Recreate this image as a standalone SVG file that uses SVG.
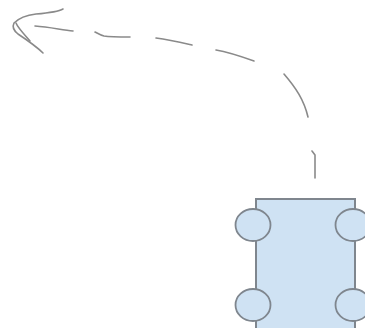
<svg xmlns="http://www.w3.org/2000/svg" width="365" height="328" viewBox="0 0 365 328">
<style>
.b{fill:#cfe2f3;stroke:#7f868e;stroke-width:2}
.w{fill:#cfe2f3;stroke:#7f868e;stroke-width:1.8}
.c{fill:none;stroke:#8a8a8a;stroke-width:1.6;stroke-linecap:round;stroke-linejoin:round}
</style>
<rect width="365" height="328" fill="#fff"/>
<g id="connectors">
<path class="c" d="M315 178L315 155 312 151"/>
<path class="c" d="M308 117C304 100 296 88 284 74"/>
<path class="c" d="M254 61C240 56 228 52 216 50"/>
<path class="c" d="M192 45C183 43 170 40 156 38"/>
<path class="c" d="M130 37C120 37 110 37 104 36 100 35 97 33 95 32"/>
<path class="c" d="M73 31C62 30 50 27 35 26"/>
<path class="c" d="M63 9C58 12 48 13 36 14 28 15 20 17 14 23 12 27 13 30 18 34 27 40 36 46 43 53"/>
<path class="c" d="M16 23C18 28 24 34 30 41"/>
</g>
<g id="cart">
<rect class="b" x="256" y="199" width="99" height="131"/>
<ellipse class="w" cx="253" cy="225" rx="17.500" ry="16"/>
<ellipse class="w" cx="353" cy="225" rx="17.500" ry="16"/>
<ellipse class="w" cx="253" cy="305" rx="17.500" ry="16"/>
<ellipse class="w" cx="353" cy="305" rx="17.500" ry="16"/>
</g>
</svg>
